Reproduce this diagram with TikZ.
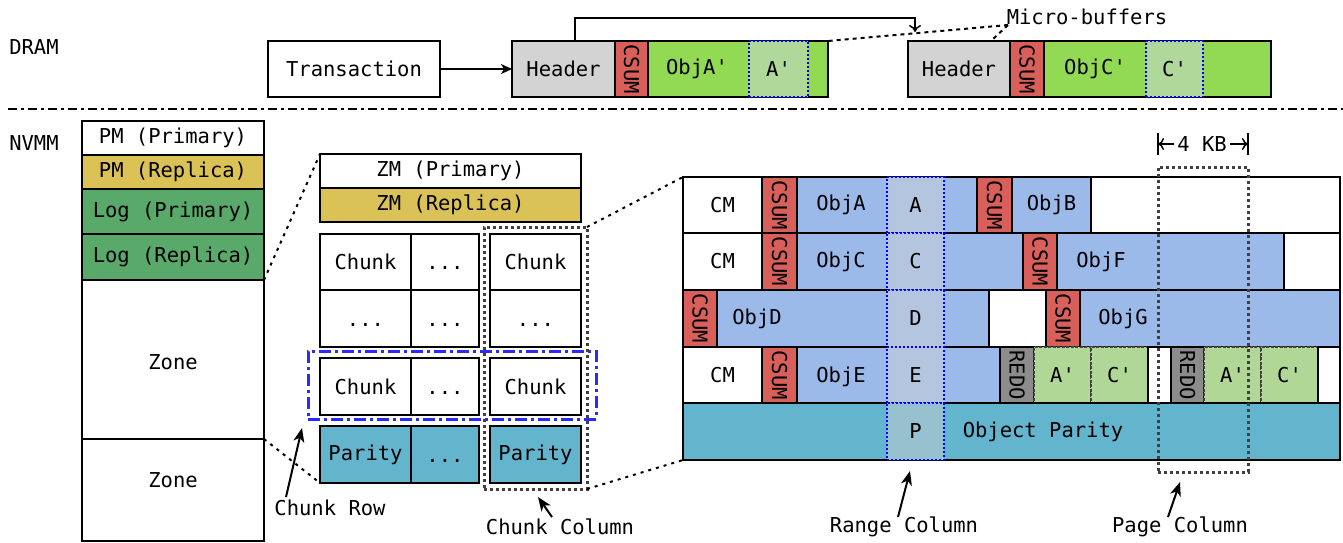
\documentclass[tikz,border=0pt]{standalone}
\usepackage{fontspec}
\usepackage{graphicx}
\newfontfamily\monofam{DejaVu Sans Mono}
\usetikzlibrary{arrows.meta,calc}
\definecolor{hdrc}{HTML}{D3D3D3}
\definecolor{csumc}{HTML}{D9605A}
\definecolor{bufgreen}{HTML}{92D954}
\definecolor{mbgreen}{HTML}{B0D89A}
\definecolor{yelc}{HTML}{DBC257}
\definecolor{loggreen}{HTML}{58A96A}
\definecolor{parityc}{HTML}{63B4CD}
\definecolor{objblue}{HTML}{9BBAEA}
\definecolor{rangec}{HTML}{B4C5DF}
\definecolor{rangep}{HTML}{97C1CF}
\definecolor{redoc}{HTML}{8C8C8C}
\definecolor{logcell}{HTML}{B1D796}
\definecolor{pageg}{HTML}{404040}
\definecolor{rowblue}{HTML}{2A2AFF}
\newcommand\rotlbl[1]{\rotatebox{-90}{#1}}
\newcommand\dotsc{\vphantom{Ch}...}
\tikzset{
  cellst/.style={draw=black, line width=1.5pt, inner sep=0pt, outer sep=0pt, fill=white},
  txt/.style={inner sep=1pt},
  csumst/.style={fill=csumc},
  objst/.style={fill=objblue},
  mbst/.style={fill=mbgreen, draw=blue, line width=1.6pt, dash pattern=on 2pt off 2pt},
  rangest/.style={fill=rangec, draw=blue, line width=1.6pt, dash pattern=on 2pt off 2pt},
  logst/.style={fill=logcell, draw=pageg, line width=1.1pt, dash pattern=on 3pt off 1.5pt},
  rowbox/.style={fill=none, draw=rowblue, line width=3pt, dash pattern=on 12pt off 4pt on 3pt off 4pt},
  colbox/.style={fill=none, draw=pageg, line width=3pt, dash pattern=on 3pt off 3pt},
  zoomln/.style={draw=black, line width=2pt, dash pattern=on 3pt off 5pt},
  microln/.style={draw=black, line width=2pt, dash pattern=on 4pt off 4pt},
  sepln/.style={draw=black, line width=2pt, dash pattern=on 9pt off 4pt on 3pt off 4pt},
  arr/.style={draw=black, line width=1.5pt, -{Stealth[length=11pt,width=10pt,inset=3pt]}},
  lblarr/.style={draw=black, line width=2pt, -{Stealth[length=14pt,width=11pt,inset=4pt]}},
  kbarr/.style={draw=black, line width=1.5pt, -{To[length=6pt,width=12pt]}},
}
\newcommand\Cell[7][]{\node[cellst,minimum width={(#5-#3)*1pt},minimum height={(#6-#4)*1pt},#1] (#2) at ({(#3+#5)/2},{(#4+#6)/2}) {#7};}
\begin{document}
\begin{tikzpicture}[x=1pt,y=-1pt,font=\monofam\fontsize{20.5pt}{24pt}\selectfont]
\useasboundingbox (0,0) rectangle (1343,542);
% ---------------- DRAM ----------------
\node[txt] (dram) at (34,47) {DRAM};
\Cell{trans}{268}{41}{440}{97}{Transaction}
\Cell[fill=hdrc]{hdrA}{512}{41}{615}{97}{Header}
\Cell[csumst]{csumA}{615}{41}{648}{97}{\rotlbl{CSUM}}
\Cell[fill=bufgreen]{bufA}{648}{41}{828}{97}{}
\Cell[mbst]{mbA}{749}{41}{808}{97}{A'}
\node[txt] (objAp) at (697,69) {ObjA'};
\draw[arr] (trans.east) -- (hdrA.west);
\Cell[fill=hdrc]{hdrC}{908}{41}{1010}{97}{Header}
\Cell[csumst]{csumC}{1010}{41}{1044}{97}{\rotlbl{CSUM}}
\Cell[fill=bufgreen]{bufC}{1044}{41}{1271}{97}{}
\Cell[mbst]{mbC}{1146}{41}{1203}{97}{C'}
\node[txt] (objCp) at (1095,69) {ObjC'};
\coordinate (topy) at (0,18);
\coordinate (arrtgt) at (915,32);
\coordinate (hdrAtop) at (575,41);
\draw[line width=1.5pt, -{To[length=7pt,width=12pt]}] (hdrAtop) -- (hdrAtop |- topy) -| (arrtgt);
\node[txt] (micro) at (1087,17) {Micro-buffers};
\coordinate (mtail) at (1008,25);
\coordinate (hdrCtop) at (992,40);
\draw[microln] (mtail) -- (bufA.north east);
\draw[microln] (mtail) -- (hdrCtop);
\draw[sepln] (8,109) -- (1343,109);
% ---------------- NVMM left ----------------
\node[txt] (nvmm) at (34,143) {NVMM};
\Cell{pmp}{82}{121}{264}{155}{PM (Primary)}
\Cell[fill=yelc]{pmr}{82}{155}{264}{189}{PM (Replica)}
\Cell[fill=loggreen]{logp}{82}{189}{264}{234}{Log (Primary)}
\Cell[fill=loggreen]{logr}{82}{234}{264}{280}{Log (Replica)}
\Cell{zone1}{82}{280}{264}{439}{}
\Cell{zone2}{82}{439}{264}{541}{}
\node[txt] (tzone1) at (173,362) {Zone};
\node[txt] (tzone2) at (173,480) {Zone};
% ---------------- middle ----------------
\Cell{zmp}{320}{154}{581}{188}{ZM (Primary)}
\Cell[fill=yelc]{zmr}{320}{188}{581}{222}{ZM (Replica)}
\Cell{g11}{320}{234}{411}{290}{Chunk}
\Cell{g12}{411}{234}{479}{290}{\dotsc}
\Cell{g13}{490}{234}{581}{290}{Chunk}
\Cell{g21}{320}{290}{411}{347}{\dotsc}
\Cell{g22}{411}{290}{479}{347}{\dotsc}
\Cell{g23}{490}{290}{581}{347}{\dotsc}
\Cell{g31}{320}{358}{411}{415}{Chunk}
\Cell{g32}{411}{358}{479}{415}{\dotsc}
\Cell{g33}{490}{358}{581}{415}{Chunk}
\Cell[fill=parityc]{g41}{320}{426}{411}{483}{Parity}
\Cell[fill=parityc]{g42}{411}{426}{479}{483}{\dotsc}
\Cell[fill=parityc]{g43}{490}{426}{581}{483}{Parity}
\Cell[rowbox]{crow}{308}{351}{596}{419}{}
\Cell[colbox]{ccol}{484}{227}{587}{489}{}
% ---------------- big grid ----------------
% row 1
\Cell{cm1}{683}{177}{762}{233}{CM}
\Cell[csumst]{cs1}{762}{177}{797}{233}{\rotlbl{CSUM}}
\Cell[objst]{objA}{797}{177}{977}{233}{}
\Cell[csumst]{cs1b}{977}{177}{1012}{233}{\rotlbl{CSUM}}
\Cell[objst]{objB}{1012}{177}{1091}{233}{ObjB}
\Cell{e1}{1091}{177}{1340}{233}{}
% row 2
\Cell{cm2}{683}{233}{762}{290}{CM}
\Cell[csumst]{cs2}{762}{233}{797}{290}{\rotlbl{CSUM}}
\Cell[objst]{objC}{797}{233}{1023}{290}{}
\Cell[csumst]{cs2b}{1023}{233}{1057}{290}{\rotlbl{CSUM}}
\Cell[objst]{objF}{1057}{233}{1284}{290}{}
\Cell{e2}{1284}{233}{1340}{290}{}
% row 3
\Cell[csumst]{cs3}{683}{290}{717}{347}{\rotlbl{CSUM}}
\Cell[objst]{objD}{717}{290}{989}{347}{}
\Cell{e3}{989}{290}{1046}{347}{}
\Cell[csumst]{cs3b}{1046}{290}{1080}{347}{\rotlbl{CSUM}}
\Cell[objst]{objG}{1080}{290}{1340}{347}{}
% row 4
\Cell{cm4}{683}{347}{762}{403}{CM}
\Cell[csumst]{cs4}{762}{347}{797}{403}{\rotlbl{CSUM}}
\Cell[objst]{objE}{797}{347}{1000}{403}{}
\Cell[fill=redoc]{redo1}{1000}{347}{1034}{403}{\rotlbl{REDO}}
\Cell[logst]{la1}{1034}{347}{1091}{403}{A'}
\Cell[logst]{lc1}{1091}{347}{1148}{403}{C'}
\Cell{e4}{1148}{347}{1171}{403}{}
\Cell[fill=redoc]{redo2}{1171}{347}{1204}{403}{\rotlbl{REDO}}
\Cell[logst]{la2}{1204}{347}{1261}{403}{A'}
\Cell[logst]{lc2}{1261}{347}{1318}{403}{C'}
\Cell{e4b}{1318}{347}{1340}{403}{}
% parity row
\Cell[fill=parityc]{prow}{683}{403}{1340}{460}{}
% range column
\Cell[rangest]{rA}{887}{177}{944}{233}{A}
\Cell[rangest]{rC}{887}{233}{944}{290}{C}
\Cell[rangest]{rD}{887}{290}{944}{347}{D}
\Cell[rangest]{rE}{887}{347}{944}{403}{E}
\Cell[rangest,fill=rangep]{rP}{887}{403}{944}{460}{P}
% texts
\node[txt] (tObjA) at (841,205) {ObjA};
\node[txt] (tObjC) at (841,262) {ObjC};
\node[txt] (tObjD) at (757,319) {ObjD};
\node[txt] (tObjE) at (841,377) {ObjE};
\node[txt] (tObjF) at (1101,262) {ObjF};
\node[txt] (tObjG) at (1123,319) {ObjG};
\node[txt] (tPar) at (1043,432) {Object Parity};
% page column
\Cell[colbox]{pcol}{1158}{167}{1248}{472}{}
\node[inner sep=3pt] (kb) at (1202,144) {4 KB};
\coordinate (kbL) at (1158,144);
\coordinate (kbR) at (1248,144);
\coordinate (kbL1) at (1158,133);
\coordinate (kbL2) at (1158,155);
\coordinate (kbR1) at (1248,133);
\coordinate (kbR2) at (1248,155);
\draw[line width=1.5pt] (kbL1) -- (kbL2);
\draw[line width=1.5pt] (kbR1) -- (kbR2);
\draw[kbarr] (kb.west) -- (kbL);
\draw[kbarr] (kb.east) -- (kbR);
% zoom lines
\draw[zoomln] (zone1.north east) -- (zmp.north west);
\draw[zoomln] (zone1.south east) -- (g41.south west);
\draw[zoomln] (ccol.north east) -- (cm1.north west);
\draw[zoomln] (ccol.south east) -- (prow.south west);
% bottom labels
\node[txt] (crowlbl) at (330,508) {Chunk Row};
\coordinate (crowtip) at (302,428);
\coordinate (crowtail) at (286,497);
\draw[lblarr] (crowtail) -- (crowtip);
\node[txt] (ccollbl) at (560,527) {Chunk Column};
\coordinate (ccoltip) at (538,497);
\coordinate (ccoltail) at (552,517);
\draw[lblarr] (ccoltail) -- (ccoltip);
\node[txt] (rcollbl) at (904,527) {Range Column};
\coordinate (rcoltip) at (910,471);
\coordinate (rcoltail) at (898,517);
\draw[lblarr] (rcoltail) -- (rcoltip);
\node[txt] (pcollbl) at (1180,527) {Page Column};
\coordinate (pcoltip) at (1180,482);
\coordinate (pcoltail) at (1168,517);
\draw[lblarr] (pcoltail) -- (pcoltip);
\end{tikzpicture}
\end{document}
